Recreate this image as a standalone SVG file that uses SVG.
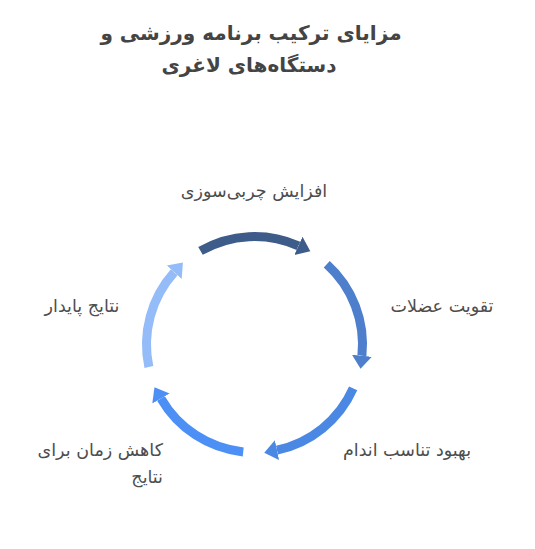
<svg xmlns="http://www.w3.org/2000/svg" width="535" height="549" viewBox="0 0 535 549">
<style>
.title{font-family:"DejaVu Sans","Liberation Sans",sans-serif;font-size:20px;font-weight:bold;fill:#444444;text-anchor:middle}
.lbl{font-family:"DejaVu Sans","Liberation Sans",sans-serif;font-size:17.5px;fill:#4d4d4d}
.arc{fill:none;stroke-width:9;stroke-linecap:butt}
</style>
<defs>
<marker id="h1" markerUnits="userSpaceOnUse" markerWidth="14" markerHeight="22" refX="0" refY="11" orient="auto"><path d="M0,1 L13,11 L0,21 Z" fill="#3E5C8A"/></marker>
<marker id="h2" markerUnits="userSpaceOnUse" markerWidth="14" markerHeight="22" refX="0" refY="11" orient="auto"><path d="M0,1 L13,11 L0,21 Z" fill="#4D7FCC"/></marker>
<marker id="h3" markerUnits="userSpaceOnUse" markerWidth="14" markerHeight="22" refX="0" refY="11" orient="auto"><path d="M0,1 L13,11 L0,21 Z" fill="#4A88E3"/></marker>
<marker id="h4" markerUnits="userSpaceOnUse" markerWidth="14" markerHeight="22" refX="0" refY="11" orient="auto"><path d="M0,1 L13,11 L0,21 Z" fill="#4C90F5"/></marker>
<marker id="h5" markerUnits="userSpaceOnUse" markerWidth="14" markerHeight="22" refX="0" refY="11" orient="auto"><path d="M0,1 L13,11 L0,21 Z" fill="#94BCF9"/></marker>
</defs>
<rect width="535" height="549" fill="#ffffff"/>
<g id="title">
<text class="title" x="251" y="40">مزایای ترکیب برنامه ورزشی و</text>
<text class="title" x="249" y="72">دستگاه‌های لاغری</text>
</g>
<g id="connectors">
<path class="arc" stroke="#3E5C8A" marker-end="url(#h1)" d="M200.5,250.97 A108,108 0 0 1 298.43,245.84"/>
<path class="arc" stroke="#4D7FCC" marker-end="url(#h2)" d="M326.77,264.24 A108,108 0 0 1 361.91,355.79"/>
<path class="arc" stroke="#4A88E3" marker-end="url(#h3)" d="M353.16,388.43 A108,108 0 0 1 276.95,450.13"/>
<path class="arc" stroke="#4C90F5" marker-end="url(#h4)" d="M243.21,451.91 A108,108 0 0 1 160.97,398.5"/>
<path class="arc" stroke="#94BCF9" marker-end="url(#h5)" d="M148.87,366.95 A108,108 0 0 1 174.24,272.24"/>
</g>
<g id="node1"><text class="lbl" x="254" y="197" text-anchor="middle">افزایش چربی‌سوزی</text></g>
<g id="node2"><text class="lbl" x="442" y="312" text-anchor="middle">تقویت عضلات</text></g>
<g id="node3"><text class="lbl" x="407" y="456" text-anchor="middle">بهبود تناسب اندام</text></g>
<g id="node4"><text class="lbl" x="163" y="456" text-anchor="end" direction="ltr">کاهش زمان برای</text><text class="lbl" x="163" y="483" text-anchor="end" direction="ltr">نتایج</text></g>
<g id="node5"><text class="lbl" x="82" y="312" text-anchor="middle">نتایج پایدار</text></g>
</svg>
